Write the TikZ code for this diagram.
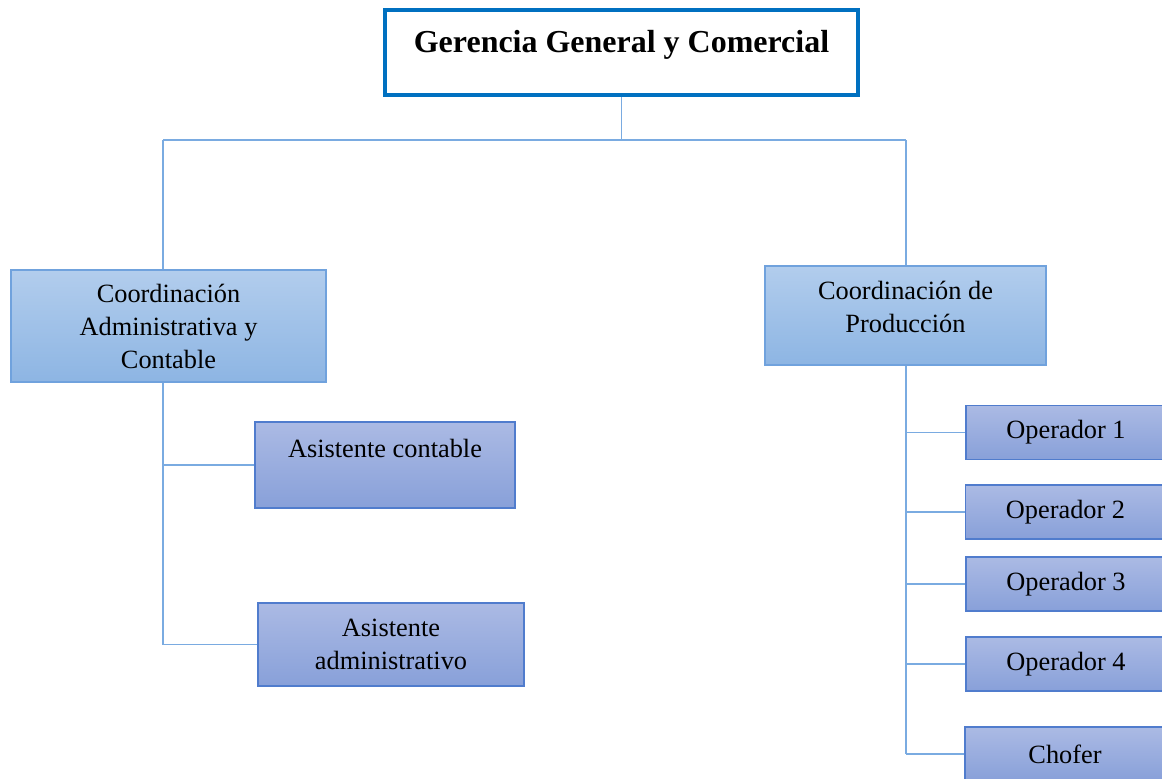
\documentclass[tikz,border=0pt]{standalone}
\usepackage{fontspec}
\setmainfont{Liberation Serif}
\usetikzlibrary{positioning}

\definecolor{gerBorde}{RGB}{0,112,192}
\definecolor{coordArriba}{RGB}{178,205,237}
\definecolor{coordAbajo}{RGB}{141,181,227}
\definecolor{coordBorde}{RGB}{112,162,221}
\definecolor{subArriba}{RGB}{171,186,228}
\definecolor{subAbajo}{RGB}{136,160,217}
\definecolor{subBorde}{RGB}{80,124,205}
\definecolor{lineaOrg}{RGB}{122,171,225}

\begin{document}
\begin{tikzpicture}[x=0.02cm, y=-0.02cm,
  every node/.style={font=\fontsize{15}{18.8}\selectfont, align=center, inner sep=0pt},
  gerbox/.style={draw=gerBorde, line width=2.3pt, fill=white,
    minimum width=9.46cm, minimum height=1.70cm,
    font=\fontsize{18.2}{22}\selectfont\bfseries},
  coordbox/.style={draw=coordBorde, line width=0.8pt,
    top color=coordArriba, bottom color=coordAbajo},
  subbox/.style={draw=subBorde, line width=0.8pt,
    top color=subArriba, bottom color=subAbajo},
  opbox/.style={subbox, minimum width=4cm, minimum height=1.08cm},
  org/.style={draw=lineaOrg, line width=0.85pt}]
\useasboundingbox (0,0) rectangle (1162,778);

\node[gerbox, text height=0.38cm, text depth=0.38cm] (ger) at (621.5,52.5) {Gerencia General y Comercial};

\node[coordbox, minimum width=6.3cm, minimum height=2.24cm] (cad) at (168.5,326)
  {Coordinación\\Administrativa y\\Contable};
\node[coordbox, minimum width=5.62cm, minimum height=1.98cm] (cpr) at (905.5,315.5)
  {Coordinación de\\Producción\\[-9pt]{}};

\node[subbox, minimum width=5.2cm, minimum height=1.72cm] (asc) at (385,465)
  {Asistente contable\\{}};
\node[subbox, minimum width=5.32cm, minimum height=1.66cm] (asa) at (391,644.5)
  {Asistente\\administrativo};

\node[opbox] (op1) at (1066,432.5) {Operador 1};
\node[opbox] (op2) at (1065.5,512) {Operador 2};
\node[opbox] (op3) at (1066,584) {Operador 3};
\node[opbox] (op4) at (1066,664) {Operador 4};
\node[opbox] (cho) at (1065,754) {Chofer};

\coordinate (jL) at (163,140);
\coordinate (jR) at (906,140);

\path[org]
(ger.south) edge (ger.south |- jL)
(jL) edge (jR)
(jL) edge (jL |- cad.north)
(jR) edge (jR |- cpr.north)
(jL |- cad.south) edge (jL |- asa.west)
(jL |- asc.west) edge (asc.west)
(jL |- asa.west) edge (asa.west)
(jR |- cpr.south) edge (jR |- cho.west)
(jR |- op1.west) edge (op1.west)
(jR |- op2.west) edge (op2.west)
(jR |- op3.west) edge (op3.west)
(jR |- op4.west) edge (op4.west)
(jR |- cho.west) edge (cho.west)
;
\end{tikzpicture}
\end{document}
